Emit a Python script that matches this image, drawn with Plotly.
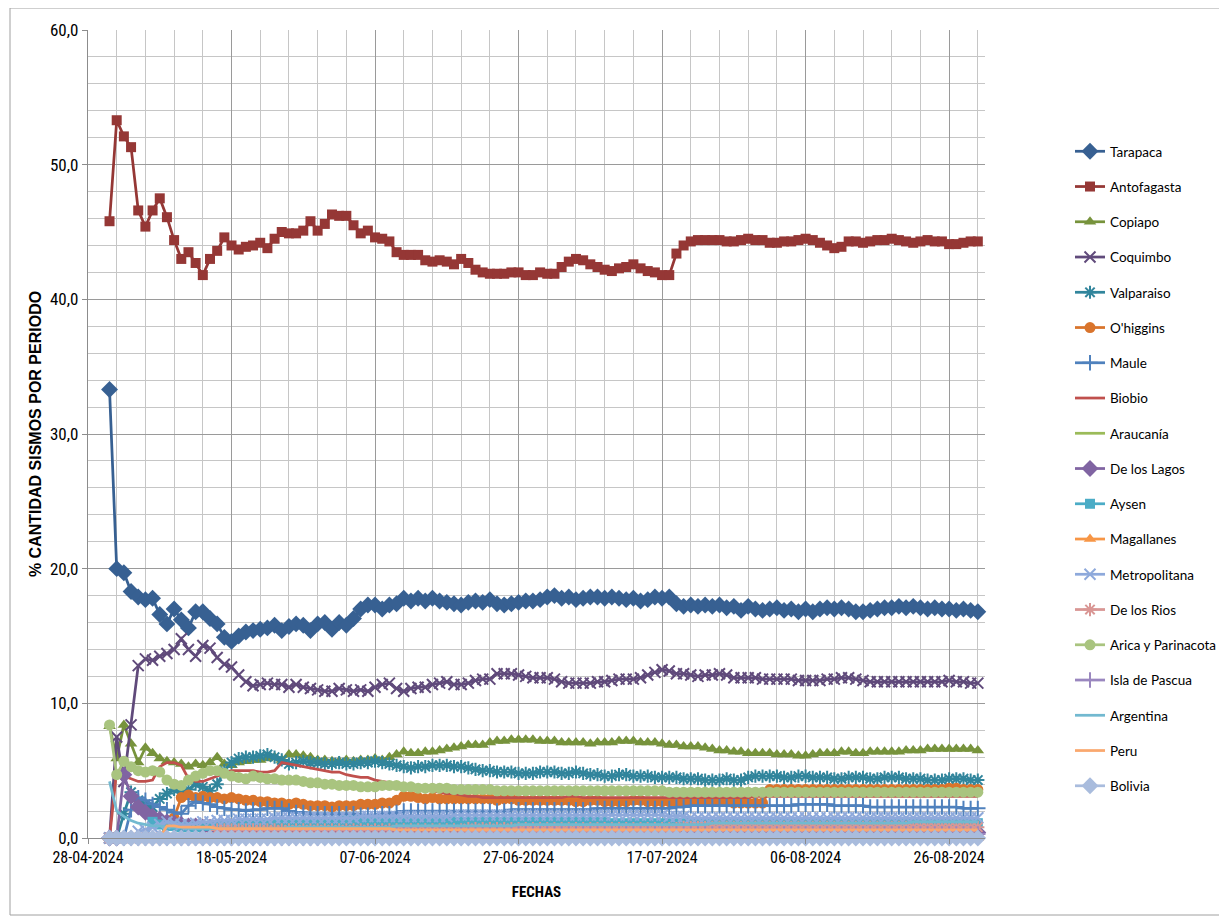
import pandas as pd
import plotly.graph_objects as go

# ---------------- data ----------------
FIRST_DATE = "2024-05-01"
LAST_DATE = "2024-08-30"
dates = pd.date_range(FIRST_DATE, LAST_DATE, freq="D")

series_names = ["Tarapaca", "Antofagasta", "Copiapo", "Coquimbo", "Valparaiso", "O'higgins",
                "Maule", "Biobio", "Araucanía", "De los Lagos", "Aysen", "Magallanes",
                "Metropolitana", "De los Rios", "Arica y Parinacota", "Isla de Pascua",
                "Argentina", "Peru", "Bolivia"]

tarapaca = [33.3, 20.0, 19.7, 18.3, 17.9, 17.7, 17.8, 16.6, 15.9, 17.0,
            16.2, 15.6, 16.8, 16.8, 16.3, 15.9, 14.9, 14.6, 15.0, 15.3,
            15.4, 15.5, 15.6, 15.8, 15.4, 15.7, 15.9, 15.8, 15.4, 15.9,
            16.0, 15.5, 16.0, 15.8, 16.3, 17.0, 17.3, 17.3, 17.0, 17.3,
            17.4, 17.8, 17.6, 17.8, 17.6, 17.8, 17.6, 17.5, 17.4, 17.3,
            17.5, 17.6, 17.5, 17.7, 17.4, 17.3, 17.4, 17.5, 17.6, 17.6,
            17.7, 17.9, 18.0, 17.8, 17.9, 17.7, 17.8, 17.9, 17.9, 17.8,
            17.9, 17.8, 17.7, 17.8, 17.6, 17.7, 17.9, 17.8, 17.9, 17.4,
            17.2, 17.3, 17.2, 17.3, 17.2, 17.3, 17.1, 17.2, 16.9, 17.2,
            17.0, 16.9, 17.0, 17.1, 16.9, 17.0, 16.8, 17.0, 16.8, 17.0,
            17.1, 17.0, 17.1, 17.0, 16.8, 16.8, 16.9, 17.0, 17.1, 17.1,
            17.2, 17.1, 17.2, 17.1, 17.0, 17.1, 17.0, 17.0, 16.9, 17.0, 16.9, 16.8]

antofagasta = [45.8, 53.3, 52.1, 51.3, 46.6, 45.4, 46.6, 47.5, 46.1, 44.4,
               43.0, 43.5, 42.7, 41.8, 43.0, 43.6, 44.6, 44.0, 43.7, 43.9,
               44.0, 44.2, 43.8, 44.5, 45.0, 44.9, 44.9, 45.1, 45.8, 45.1,
               45.6, 46.3, 46.2, 46.2, 45.5, 44.9, 45.1, 44.6, 44.5, 44.3,
               43.5, 43.3, 43.3, 43.3, 42.9, 42.8, 42.9, 42.8, 42.6, 43.0,
               42.7, 42.2, 42.0, 41.9, 41.9, 41.9, 42.0, 42.0, 41.8, 41.8,
               42.0, 41.9, 41.9, 42.4, 42.8, 43.0, 42.9, 42.6, 42.4, 42.2,
               42.1, 42.3, 42.4, 42.6, 42.3, 42.1, 42.0, 41.8, 41.8, 43.4,
               44.0, 44.3, 44.4, 44.4, 44.4, 44.4, 44.3, 44.3, 44.4, 44.5,
               44.4, 44.4, 44.2, 44.2, 44.3, 44.3, 44.4, 44.5, 44.4, 44.2,
               44.0, 43.8, 43.9, 44.3, 44.3, 44.2, 44.3, 44.4, 44.4, 44.5,
               44.4, 44.3, 44.2, 44.3, 44.4, 44.3, 44.3, 44.1, 44.1, 44.2, 44.3, 44.3]

copiapo = [8.3, 5.9, 8.4, 7.0, 5.6, 6.7, 6.3, 5.9, 5.7, 5.6,
           5.5, 5.3, 5.5, 5.4, 5.6, 6.0, 5.5, 5.4, 5.6, 5.7,
           5.8, 5.8, 5.9, 6.0, 5.8, 6.2, 6.2, 6.1, 6.0, 5.8,
           5.8, 5.7, 5.7, 5.8, 5.7, 5.8, 5.8, 5.9, 5.8, 6.0,
           6.2, 6.4, 6.3, 6.3, 6.4, 6.4, 6.5, 6.6, 6.7, 6.8,
           6.9, 6.9, 6.9, 7.1, 7.2, 7.2, 7.3, 7.3, 7.3, 7.3,
           7.2, 7.2, 7.2, 7.1, 7.1, 7.1, 7.1, 7.0, 7.1, 7.1,
           7.1, 7.2, 7.2, 7.2, 7.1, 7.1, 7.1, 7.0, 6.9, 6.9,
           6.8, 6.8, 6.8, 6.7, 6.6, 6.5, 6.5, 6.4, 6.4, 6.3,
           6.3, 6.3, 6.3, 6.2, 6.2, 6.2, 6.1, 6.1, 6.2, 6.3,
           6.3, 6.3, 6.4, 6.4, 6.3, 6.3, 6.4, 6.4, 6.4, 6.4,
           6.4, 6.5, 6.5, 6.5, 6.6, 6.6, 6.6, 6.6, 6.6, 6.6, 6.6, 6.5]

coquimbo = [0.0, 7.5, 4.2, 8.4, 12.8, 13.3, 13.2, 13.5, 13.7, 14.0,
            14.8, 14.0, 13.5, 14.3, 14.1, 13.4, 12.9, 12.7, 12.1, 11.6,
            11.3, 11.4, 11.5, 11.4, 11.4, 11.2, 11.4, 11.2, 11.1, 11.0,
            10.9, 10.9, 11.1, 11.0, 10.9, 11.0, 10.9, 11.2, 11.4, 11.5,
            11.1, 10.9, 11.1, 11.2, 11.2, 11.4, 11.5, 11.6, 11.4, 11.4,
            11.5, 11.7, 11.8, 11.8, 12.2, 12.2, 12.2, 12.1, 12.0, 11.9,
            11.9, 11.9, 11.8, 11.6, 11.5, 11.5, 11.5, 11.5, 11.6, 11.6,
            11.7, 11.8, 11.8, 11.8, 11.9, 12.1, 12.3, 12.5, 12.4, 12.2,
            12.2, 12.1, 12.0, 12.1, 12.1, 12.2, 12.1, 11.9, 11.9, 11.9,
            11.9, 11.8, 11.8, 11.8, 11.8, 11.8, 11.7, 11.7, 11.7, 11.7,
            11.8, 11.8, 11.9, 11.9, 11.8, 11.7, 11.6, 11.6, 11.6, 11.6,
            11.6, 11.6, 11.6, 11.6, 11.6, 11.6, 11.6, 11.7, 11.6, 11.6, 11.5, 11.5]

valparaiso = [0.0, 0.0, 1.8, 3.4, 2.8, 2.5, 2.3, 2.9, 3.3, 3.6,
              3.4, 3.6, 4.0, 3.8, 3.5, 4.0, 5.0, 5.6, 5.9, 6.0,
              6.0, 6.1, 6.2, 6.0, 5.8, 5.5, 5.6, 5.7, 5.6, 5.6,
              5.5, 5.5, 5.6, 5.5, 5.5, 5.6, 5.6, 5.7, 5.6, 5.5,
              5.4, 5.3, 5.2, 5.3, 5.3, 5.4, 5.4, 5.4, 5.3, 5.3,
              5.2, 5.1, 5.0, 5.0, 4.9, 4.9, 4.9, 4.8, 4.8, 4.8,
              4.9, 4.9, 4.9, 4.8, 4.8, 4.9, 4.8, 4.7, 4.7, 4.6,
              4.6, 4.7, 4.7, 4.6, 4.6, 4.6, 4.5, 4.5, 4.5, 4.5,
              4.4, 4.4, 4.4, 4.3, 4.3, 4.3, 4.4, 4.3, 4.3, 4.5,
              4.6, 4.6, 4.6, 4.6, 4.5, 4.5, 4.6, 4.6, 4.5, 4.5,
              4.5, 4.4, 4.4, 4.5, 4.5, 4.5, 4.4, 4.4, 4.5, 4.5,
              4.5, 4.4, 4.4, 4.4, 4.3, 4.3, 4.3, 4.4, 4.4, 4.4, 4.3, 4.3]

ohiggins = [0.0, 0.0, 0.0, 0.0, 0.0, 0.0, 0.0, 0.0, 1.0, 1.5,
            3.0, 3.2, 3.0, 3.1, 3.0, 3.0, 2.9, 3.0, 2.9, 2.8,
            2.8, 2.7, 2.7, 2.6, 2.6, 2.5, 2.6, 2.5, 2.4, 2.4,
            2.4, 2.3, 2.4, 2.4, 2.4, 2.5, 2.5, 2.5, 2.6, 2.6,
            2.8, 3.1, 3.1, 3.0, 2.9, 3.0, 2.9, 2.9, 2.9, 2.9,
            2.9, 2.9, 2.9, 2.9, 2.8, 2.9, 2.9, 2.8, 2.8, 2.8,
            2.8, 2.8, 2.8, 2.8, 2.8, 2.7, 2.7, 2.8, 2.8, 2.7,
            2.7, 2.7, 2.7, 2.8, 2.8, 2.7, 2.7, 2.7, 2.7, 2.7,
            2.7, 2.7, 2.7, 2.7, 2.7, 2.7, 2.7, 2.6, 2.6, 2.6,
            2.6, 2.6, 3.6, 3.6, 3.6, 3.6, 3.6, 3.6, 3.6, 3.6,
            3.6, 3.6, 3.6, 3.6, 3.6, 3.6, 3.6, 3.6, 3.6, 3.6,
            3.6, 3.6, 3.6, 3.6, 3.6, 3.6, 3.6, 3.7, 3.7, 3.6, 3.6, 3.6]

maule = [0.0, 0.0, 0.0, 2.1, 3.0, 2.8, 2.5, 2.3, 2.1, 1.9,
         1.8, 2.4, 2.7, 2.6, 2.5, 2.3, 2.2, 2.1, 2.1, 2.0,
         2.1, 2.1, 2.2, 2.2, 2.2, 2.0, 1.9, 1.9, 1.8, 1.8,
         1.8, 1.8, 1.8, 1.8, 1.8, 1.7, 1.7, 1.7, 1.8, 1.8,
         1.9, 2.0, 2.0, 2.0, 2.0, 2.0, 2.0, 2.0, 2.0, 2.0,
         2.0, 2.0, 2.0, 2.0, 2.0, 2.0, 2.1, 2.1, 2.1, 2.1,
         2.1, 2.1, 2.1, 2.1, 2.1, 2.1, 2.1, 2.1, 2.2, 2.2,
         2.2, 2.2, 2.2, 2.2, 2.2, 2.2, 2.2, 2.2, 2.2, 2.3,
         2.3, 2.4, 2.4, 2.4, 2.4, 2.4, 2.4, 2.4, 2.4, 2.4,
         2.4, 2.4, 2.4, 2.4, 2.4, 2.4, 2.5, 2.5, 2.5, 2.5,
         2.5, 2.4, 2.4, 2.4, 2.4, 2.4, 2.3, 2.3, 2.3, 2.3,
         2.3, 2.3, 2.3, 2.3, 2.3, 2.3, 2.3, 2.3, 2.3, 2.2, 2.2, 2.2]

biobio = [0.0, 5.0, 4.6, 4.4, 4.2, 4.2, 4.3, 5.3, 5.6, 5.6,
          5.4, 4.4, 4.2, 4.2, 4.4, 4.6, 4.8, 5.0, 5.0, 5.0,
          5.0, 4.9, 4.9, 5.0, 5.6, 5.5, 5.4, 5.3, 5.2, 5.1,
          5.0, 4.9, 4.9, 4.7, 4.6, 4.5, 4.5, 4.3, 4.2, 4.1,
          4.0, 3.9, 3.8, 3.8, 3.6, 3.5, 3.4, 3.3, 3.3, 3.2,
          3.1, 3.1, 3.0, 3.0, 3.0, 3.0, 3.0, 3.0, 3.0, 3.0,
          3.0, 3.0, 3.0, 3.0, 3.1, 3.1, 3.0, 3.0, 3.0, 3.0,
          3.0, 3.0, 3.0, 3.0, 3.0, 3.0, 3.0, 3.0, 3.0, 3.0,
          3.0, 3.0, 3.0, 3.0, 3.0, 3.0, 3.0, 3.0, 3.0, 3.0,
          3.1, 3.1, 3.1, 3.1, 3.1, 3.1, 3.1, 3.1, 3.1, 3.1,
          3.1, 3.1, 3.1, 3.1, 3.1, 3.1, 3.1, 3.1, 3.1, 3.1,
          3.1, 3.1, 3.1, 3.1, 3.1, 3.1, 3.1, 3.1, 3.1, 3.1, 3.1, 3.1]

araucania = [0.0, 0.0, 0.0, 0.0, 0.0, 0.0, 0.0, 0.0, 0.0, 0.0,
             0.0, 0.0, 0.0, 0.0, 0.0, 0.0, 0.0, 0.0, 0.0, 0.0,
             0.0, 0.0, 0.0, 0.0, 0.0, 0.0, 0.0, 0.0, 0.0, 0.0,
             0.0, 0.0, 0.0, 0.0, 0.0, 0.0, 0.0, 0.0, 0.0, 0.0,
             0.0, 0.0, 0.0, 0.0, 0.0, 0.0, 0.0, 0.0, 0.0, 0.0,
             0.0, 0.0, 0.0, 0.0, 0.0, 0.0, 0.0, 0.0, 0.0, 0.0,
             0.1, 0.1, 0.1, 0.1, 0.1, 0.1, 0.1, 0.1, 0.1, 0.1,
             0.1, 0.1, 0.1, 0.1, 0.1, 0.1, 0.1, 0.1, 0.1, 0.1,
             0.1, 0.1, 0.1, 0.1, 0.1, 0.1, 0.1, 0.1, 0.1, 0.1,
             0.1, 0.1, 0.1, 0.1, 0.1, 0.1, 0.1, 0.1, 0.1, 0.1,
             0.1, 0.1, 0.1, 0.1, 0.1, 0.1, 0.1, 0.1, 0.1, 0.1,
             0.1, 0.1, 0.1, 0.1, 0.1, 0.1, 0.1, 0.1, 0.1, 0.1, 0.1, 0.1]

de_los_lagos = [0.0, 0.0, 4.7, 3.1, 2.3, 1.9, 1.6, 1.4, 1.2, 1.1,
                1.0, 0.9, 0.9, 0.8, 0.8, 0.7, 0.7, 0.7, 0.7, 0.6,
                0.6, 0.6, 0.6, 0.6, 0.6, 0.5, 0.5, 0.5, 0.5, 0.5,
                0.5, 0.5, 0.5, 0.5, 0.5, 0.5, 0.5, 0.5, 0.5, 0.5,
                0.5, 0.5, 0.5, 0.5, 0.5, 0.5, 0.5, 0.5, 0.5, 0.5,
                0.4, 0.4, 0.4, 0.4, 0.4, 0.4, 0.4, 0.4, 0.4, 0.4,
                0.4, 0.4, 0.4, 0.4, 0.4, 0.4, 0.4, 0.4, 0.4, 0.4,
                0.4, 0.4, 0.4, 0.4, 0.4, 0.4, 0.4, 0.4, 0.4, 0.4,
                0.4, 0.4, 0.4, 0.4, 0.4, 0.4, 0.4, 0.4, 0.4, 0.4,
                0.4, 0.4, 0.4, 0.4, 0.4, 0.4, 0.4, 0.4, 0.4, 0.4,
                0.4, 0.4, 0.4, 0.4, 0.4, 0.4, 0.4, 0.4, 0.4, 0.4,
                0.4, 0.4, 0.4, 0.4, 0.4, 0.4, 0.4, 0.4, 0.4, 0.4, 0.4, 0.4]

aysen = [0.0, 0.0, 0.0, 0.0, 0.0, 0.0, 1.2, 1.0, 0.9, 0.9,
         0.8, 0.8, 0.8, 0.9, 0.9, 0.9, 0.9, 0.9, 1.0, 1.0,
         1.0, 1.0, 1.1, 1.1, 1.1, 1.0, 1.1, 1.2, 1.2, 1.2,
         1.2, 1.2, 1.2, 1.3, 1.3, 1.3, 1.3, 1.3, 1.3, 1.3,
         1.3, 1.3, 1.3, 1.3, 1.2, 1.2, 1.2, 1.2, 1.2, 1.2,
         1.2, 1.2, 1.2, 1.2, 1.2, 1.2, 1.2, 1.2, 1.2, 1.2,
         1.2, 1.2, 1.2, 1.2, 1.2, 1.2, 1.2, 1.2, 1.2, 1.2,
         1.1, 1.1, 1.1, 1.1, 1.1, 1.1, 1.1, 1.1, 1.1, 1.1,
         1.1, 1.1, 1.1, 1.1, 1.1, 1.1, 1.1, 1.1, 1.1, 1.1,
         1.1, 1.1, 1.1, 1.1, 1.1, 1.1, 1.1, 1.1, 1.1, 1.1,
         1.1, 1.1, 1.1, 1.1, 1.1, 1.1, 1.1, 1.1, 1.1, 1.1,
         1.1, 1.1, 1.1, 1.1, 1.1, 1.1, 1.1, 1.1, 1.1, 1.1, 1.1, 1.1]

magallanes = [0.0, 0.0, 0.0, 0.0, 0.0, 0.0, 0.0, 0.0, 0.0, 0.0,
              0.0, 0.0, 0.0, 0.0, 0.0, 0.0, 0.0, 0.0, 0.0, 0.0,
              0.0, 0.0, 0.0, 0.0, 0.0, 0.0, 0.0, 0.0, 0.0, 0.0,
              0.0, 0.0, 0.0, 0.0, 0.0, 0.0, 0.0, 0.0, 0.0, 0.0,
              0.0, 0.0, 0.0, 0.0, 0.0, 0.0, 0.0, 0.0, 0.0, 0.0,
              0.0, 0.0, 0.0, 0.0, 0.0, 0.0, 0.0, 0.0, 0.0, 0.0,
              0.0, 0.0, 0.0, 0.0, 0.0, 0.0, 0.0, 0.0, 0.0, 0.0,
              0.0, 0.0, 0.0, 0.0, 0.0, 0.0, 0.0, 0.0, 0.0, 0.0,
              0.0, 0.0, 0.0, 0.0, 0.0, 0.0, 0.0, 0.0, 0.0, 0.0,
              0.0, 0.0, 0.0, 0.0, 0.0, 0.0, 0.0, 0.0, 0.0, 0.0,
              0.0, 0.0, 0.0, 0.0, 0.0, 0.0, 0.0, 0.0, 0.0, 0.0,
              0.0, 0.0, 0.0, 0.0, 0.0, 0.0, 0.0, 0.0, 0.0, 0.0, 0.0, 0.0]

metropolitana = [0.0, 0.0, 0.0, 0.0, 0.5, 0.6, 0.8, 1.0, 1.2, 1.1,
                 1.0, 1.0, 1.1, 1.2, 1.2, 1.3, 1.3, 1.3, 1.4, 1.4,
                 1.4, 1.4, 1.4, 1.5, 1.5, 1.5, 1.5, 1.5, 1.5, 1.5,
                 1.5, 1.5, 1.5, 1.5, 1.5, 1.6, 1.6, 1.6, 1.6, 1.6,
                 1.6, 1.6, 1.6, 1.6, 1.6, 1.6, 1.6, 1.6, 1.7, 1.7,
                 1.7, 1.7, 1.7, 1.7, 1.7, 1.7, 1.7, 1.7, 1.7, 1.7,
                 1.7, 1.7, 1.7, 1.7, 1.7, 1.7, 1.7, 1.7, 1.7, 1.7,
                 1.7, 1.7, 1.7, 1.7, 1.7, 1.7, 1.7, 1.7, 1.6, 1.6,
                 1.6, 1.5, 1.5, 1.5, 1.5, 1.5, 1.5, 1.5, 1.5, 1.5,
                 1.5, 1.5, 1.5, 1.5, 1.5, 1.5, 1.5, 1.5, 1.5, 1.5,
                 1.5, 1.5, 1.5, 1.5, 1.5, 1.5, 1.5, 1.5, 1.5, 1.5,
                 1.5, 1.5, 1.5, 1.5, 1.5, 1.5, 1.5, 1.5, 1.5, 1.5, 1.5, 1.5]

de_los_rios = [0.0, 0.0, 0.0, 0.0, 0.0, 0.0, 0.0, 0.0, 0.0, 0.0,
               0.0, 0.0, 0.0, 0.0, 0.0, 0.6, 0.6, 0.6, 0.6, 0.6,
               0.6, 0.6, 0.6, 0.6, 0.6, 0.6, 0.6, 0.6, 0.6, 0.6,
               0.6, 0.6, 0.6, 0.6, 0.6, 0.6, 0.6, 0.6, 0.6, 0.6,
               0.6, 0.6, 0.6, 0.6, 0.6, 0.6, 0.6, 0.6, 0.6, 0.6,
               0.7, 0.7, 0.7, 0.7, 0.7, 0.7, 0.7, 0.7, 0.7, 0.7,
               0.7, 0.7, 0.7, 0.7, 0.7, 0.7, 0.7, 0.7, 0.7, 0.7,
               0.7, 0.7, 0.7, 0.7, 0.7, 0.7, 0.7, 0.7, 0.7, 0.7,
               0.8, 0.8, 0.8, 0.8, 0.8, 0.8, 0.8, 0.8, 0.8, 0.8,
               0.8, 0.8, 0.8, 0.8, 0.8, 0.8, 0.8, 0.8, 0.8, 0.8,
               0.8, 0.8, 0.8, 0.8, 0.8, 0.8, 0.8, 0.8, 0.8, 0.8,
               0.8, 0.8, 0.8, 0.8, 0.8, 0.8, 0.8, 0.8, 0.8, 0.8, 0.8, 0.8]

arica = [8.4, 4.7, 5.7, 5.3, 5.0, 4.9, 5.0, 4.9, 4.3, 4.0,
         3.9, 4.3, 4.6, 4.8, 5.0, 5.0, 4.8, 4.6, 4.5, 4.4,
         4.6, 4.5, 4.4, 4.4, 4.3, 4.3, 4.3, 4.2, 4.1, 4.1,
         4.0, 4.0, 3.9, 3.9, 3.9, 3.8, 3.8, 3.8, 3.9, 3.9,
         3.9, 3.8, 3.8, 3.7, 3.7, 3.7, 3.7, 3.7, 3.6, 3.6,
         3.6, 3.6, 3.6, 3.6, 3.5, 3.5, 3.5, 3.5, 3.5, 3.5,
         3.5, 3.5, 3.5, 3.5, 3.5, 3.5, 3.5, 3.5, 3.5, 3.5,
         3.5, 3.5, 3.5, 3.5, 3.5, 3.5, 3.5, 3.5, 3.4, 3.4,
         3.4, 3.4, 3.4, 3.4, 3.4, 3.4, 3.4, 3.4, 3.4, 3.4,
         3.4, 3.4, 3.4, 3.4, 3.4, 3.4, 3.4, 3.4, 3.4, 3.4,
         3.4, 3.4, 3.4, 3.4, 3.4, 3.4, 3.4, 3.4, 3.4, 3.4,
         3.4, 3.4, 3.4, 3.4, 3.4, 3.4, 3.4, 3.4, 3.4, 3.4, 3.4, 3.4]

isla_de_pascua = [0.0, 0.0, 0.0, 0.0, 0.0, 0.0, 0.0, 0.0, 0.0, 0.0,
                  0.0, 0.0, 0.0, 0.0, 0.0, 0.0, 0.0, 0.0, 0.0, 0.0,
                  0.0, 0.0, 0.0, 0.0, 0.0, 0.0, 0.0, 0.0, 0.0, 0.0,
                  0.3, 0.3, 0.3, 0.3, 0.3, 0.3, 0.3, 0.3, 0.3, 0.3,
                  0.3, 0.3, 0.3, 0.3, 0.3, 0.3, 0.3, 0.3, 0.3, 0.3,
                  0.3, 0.3, 0.3, 0.3, 0.3, 0.3, 0.3, 0.3, 0.3, 0.3,
                  0.3, 0.3, 0.3, 0.3, 0.3, 0.3, 0.3, 0.3, 0.3, 0.3,
                  0.3, 0.3, 0.3, 0.3, 0.3, 0.3, 0.3, 0.3, 0.3, 0.3,
                  0.3, 0.3, 0.3, 0.3, 0.3, 0.3, 0.3, 0.3, 0.3, 0.3,
                  0.3, 0.3, 0.3, 0.3, 0.3, 0.3, 0.3, 0.3, 0.3, 0.3,
                  0.3, 0.3, 0.3, 0.3, 0.3, 0.3, 0.3, 0.3, 0.3, 0.3,
                  0.3, 0.3, 0.3, 0.3, 0.3, 0.3, 0.3, 0.3, 0.3, 0.3, 0.3, 0.3]

argentina = [4.2, 2.0, 1.6, 1.3, 1.1, 1.0, 0.9, 0.9, 0.8, 0.8,
             0.8, 0.7, 0.7, 0.7, 0.7, 0.7, 0.7, 0.7, 0.7, 0.7,
             0.7, 0.7, 0.7, 0.7, 0.7, 0.8, 0.8, 0.8, 0.8, 0.8,
             0.8, 0.8, 0.8, 0.8, 0.8, 0.8, 0.8, 0.8, 0.8, 0.8,
             0.9, 0.9, 0.9, 0.9, 0.9, 0.9, 0.9, 0.9, 0.9, 0.9,
             0.9, 0.9, 0.9, 0.9, 0.9, 0.9, 0.9, 1.0, 1.0, 1.0,
             1.0, 1.0, 1.0, 1.0, 1.0, 1.0, 1.0, 1.0, 1.0, 1.0,
             1.0, 1.0, 1.0, 1.0, 1.0, 1.0, 1.0, 1.0, 1.0, 1.0,
             1.0, 1.0, 1.0, 1.0, 1.1, 1.1, 1.1, 1.1, 1.1, 1.1,
             1.1, 1.1, 1.1, 1.1, 1.1, 1.1, 1.1, 1.1, 1.1, 1.1,
             1.1, 1.1, 1.1, 1.1, 1.1, 1.1, 1.1, 1.1, 1.1, 1.1,
             1.1, 1.1, 1.2, 1.2, 1.2, 1.2, 1.2, 1.2, 1.2, 1.2, 1.2, 1.2]

peru = [0.0, 0.0, 0.0, 0.0, 0.0, 0.0, 0.0, 0.0, 0.9, 0.9,
        0.8, 0.8, 0.8, 0.8, 0.8, 0.7, 0.7, 0.7, 0.7, 0.7,
        0.7, 0.7, 0.7, 0.7, 0.7, 0.7, 0.7, 0.7, 0.7, 0.7,
        0.7, 0.7, 0.7, 0.7, 0.7, 0.7, 0.7, 0.7, 0.7, 0.7,
        0.6, 0.6, 0.6, 0.6, 0.6, 0.6, 0.6, 0.6, 0.6, 0.6,
        0.6, 0.6, 0.6, 0.6, 0.6, 0.6, 0.6, 0.6, 0.6, 0.6,
        0.6, 0.6, 0.6, 0.6, 0.6, 0.6, 0.6, 0.6, 0.6, 0.6,
        0.6, 0.6, 0.6, 0.6, 0.6, 0.6, 0.6, 0.6, 0.6, 0.6,
        0.6, 0.6, 0.6, 0.6, 0.6, 0.6, 0.6, 0.6, 0.6, 0.6,
        0.6, 0.6, 0.6, 0.6, 0.6, 0.6, 0.6, 0.6, 0.6, 0.6,
        0.6, 0.6, 0.6, 0.6, 0.6, 0.6, 0.6, 0.6, 0.6, 0.6,
        0.6, 0.6, 0.6, 0.6, 0.6, 0.6, 0.6, 0.6, 0.6, 0.6, 0.6, 0.6]

bolivia = [0.0, 0.0, 0.0, 0.0, 0.0, 0.0, 0.0, 0.0, 0.0, 0.0,
           0.0, 0.0, 0.0, 0.0, 0.0, 0.0, 0.0, 0.0, 0.0, 0.0,
           0.0, 0.0, 0.0, 0.0, 0.0, 0.0, 0.0, 0.0, 0.0, 0.0,
           0.0, 0.0, 0.0, 0.0, 0.0, 0.0, 0.0, 0.0, 0.0, 0.0,
           0.0, 0.0, 0.0, 0.0, 0.0, 0.0, 0.0, 0.0, 0.0, 0.0,
           0.0, 0.0, 0.0, 0.0, 0.0, 0.0, 0.0, 0.0, 0.0, 0.0,
           0.0, 0.0, 0.0, 0.0, 0.0, 0.0, 0.0, 0.0, 0.0, 0.0,
           0.0, 0.0, 0.0, 0.0, 0.0, 0.0, 0.0, 0.0, 0.0, 0.0,
           0.0, 0.0, 0.0, 0.0, 0.0, 0.0, 0.0, 0.0, 0.0, 0.0,
           0.0, 0.0, 0.0, 0.0, 0.0, 0.0, 0.0, 0.0, 0.0, 0.0,
           0.0, 0.0, 0.0, 0.0, 0.0, 0.0, 0.0, 0.0, 0.0, 0.0,
           0.0, 0.0, 0.0, 0.0, 0.0, 0.0, 0.0, 0.0, 0.0, 0.0, 0.0, 0.0]

series_values = [tarapaca, antofagasta, copiapo, coquimbo, valparaiso, ohiggins, maule,
                 biobio, araucania, de_los_lagos, aysen, magallanes, metropolitana,
                 de_los_rios, arica, isla_de_pascua, argentina, peru, bolivia]

# ---------------- styles ----------------
colors = ["#376092", "#953735", "#77933C", "#604A7B", "#31859C", "#D9742C", "#4F81BD",
          "#C0504D", "#9BBB59", "#8064A2", "#4BACC6", "#F79646", "#8EA9DB", "#D99694",
          "#A9C47F", "#9A87BF", "#72B9D0", "#FAA86E", "#A9BCDD"]
symbols = ["diamond", "square", "triangle-up", "x-thin", "asterisk", "circle", "cross-thin",
           None, None, "diamond", "square", "triangle-up", "x-thin", "asterisk", "circle",
           "cross-thin", None, None, "diamond"]
sizes = {"diamond": 13, "square": 10, "triangle-up": 11, "x-thin": 11, "asterisk": 11,
         "circle": 11, "cross-thin": 11}

FONT = "Liberation Sans Narrow, Roboto Condensed, Liberation Sans, Arial"
WIDE_FONT = "Liberation Sans, Arial"
LEGEND_FONT = "Lato, Liberation Sans, Arial"

fig = go.Figure()
for name, vals, col, sym in zip(series_names, series_values, colors, symbols):
    kw = dict(x=dates, y=vals, name=name, legendgroup=name, cliponaxis=False,
              line=dict(color=col, width=2.75))
    if sym is None:
        kw["mode"] = "lines"
    else:
        kw["mode"] = "lines+markers"
        thin = sym in ("x-thin", "asterisk", "cross-thin")
        kw["marker"] = dict(symbol=sym, size=sizes[sym], color=col,
                            line=dict(color=col, width=2 if thin else 0))
    fig.add_trace(go.Scatter(**kw))

# page body has an 8px margin: figure is drawn 8px smaller and coordinates shifted
OFF = 8
W, H = 1227 - OFF, 919 - OFF
DAY = 86400000
fig.update_layout(
    width=W, height=H,
    margin=dict(l=88 - OFF, r=W - (985 - OFF), t=30 - OFF, b=H - (838 - OFF), autoexpand=False),
    paper_bgcolor="white", plot_bgcolor="white",
    separators=",.",
    font=dict(family=FONT, size=15, color="black"),
    legend=dict(xref="container", yref="container", x=(1070 - OFF) / W, y=1 - (136 - OFF) / H,
                xanchor="left", yanchor="top", font=dict(family=LEGEND_FONT, size=13.5, color="black"),
                tracegroupgap=14.7, itemwidth=30, bgcolor="rgba(0,0,0,0)", maxheight=800),
    xaxis=dict(type="date", range=["2024-04-28", "2024-08-31"],
               tick0="2024-04-28", dtick=20 * DAY, tickformat="%d-%m-%Y",
               showgrid=True, gridcolor="#9A9A9A", gridwidth=1.3,
               minor=dict(dtick=4 * DAY, showgrid=True, gridcolor="#C6C6C6", gridwidth=1.3),
               ticks="outside", ticklen=5, tickcolor="#8C8C8C",
               showline=True, linecolor="#8C8C8C", linewidth=1.3,
               tickfont=dict(size=16), zeroline=False,
               title=dict(text="<b>FECHAS</b>", font=dict(size=15), standoff=20)),
    yaxis=dict(range=[0, 60], dtick=10, tickformat=".1f",
               showgrid=True, gridcolor="#9A9A9A", gridwidth=1.3,
               minor=dict(dtick=2, showgrid=True, gridcolor="#C6C6C6", gridwidth=1.3),
               ticks="outside", ticklen=5, tickcolor="#8C8C8C",
               showline=True, linecolor="#8C8C8C", linewidth=1.3,
               tickfont=dict(size=17), zeroline=False,
               title=dict(text="<b>% CANTIDAD SISMOS POR PERIODO</b>",
                          font=dict(family=WIDE_FONT, size=16), standoff=4)),
    shapes=[dict(type="rect", xref="paper", yref="paper",
                 x0=(10 - 88) / 897, x1=(1220 - 88) / 897,
                 y0=(838 - 915) / 808, y1=(838 - 8) / 808,
                 line=dict(color="#A0A0A0", width=1), fillcolor="rgba(0,0,0,0)",
                 layer="below")],
)

fig.write_html("out.html")
